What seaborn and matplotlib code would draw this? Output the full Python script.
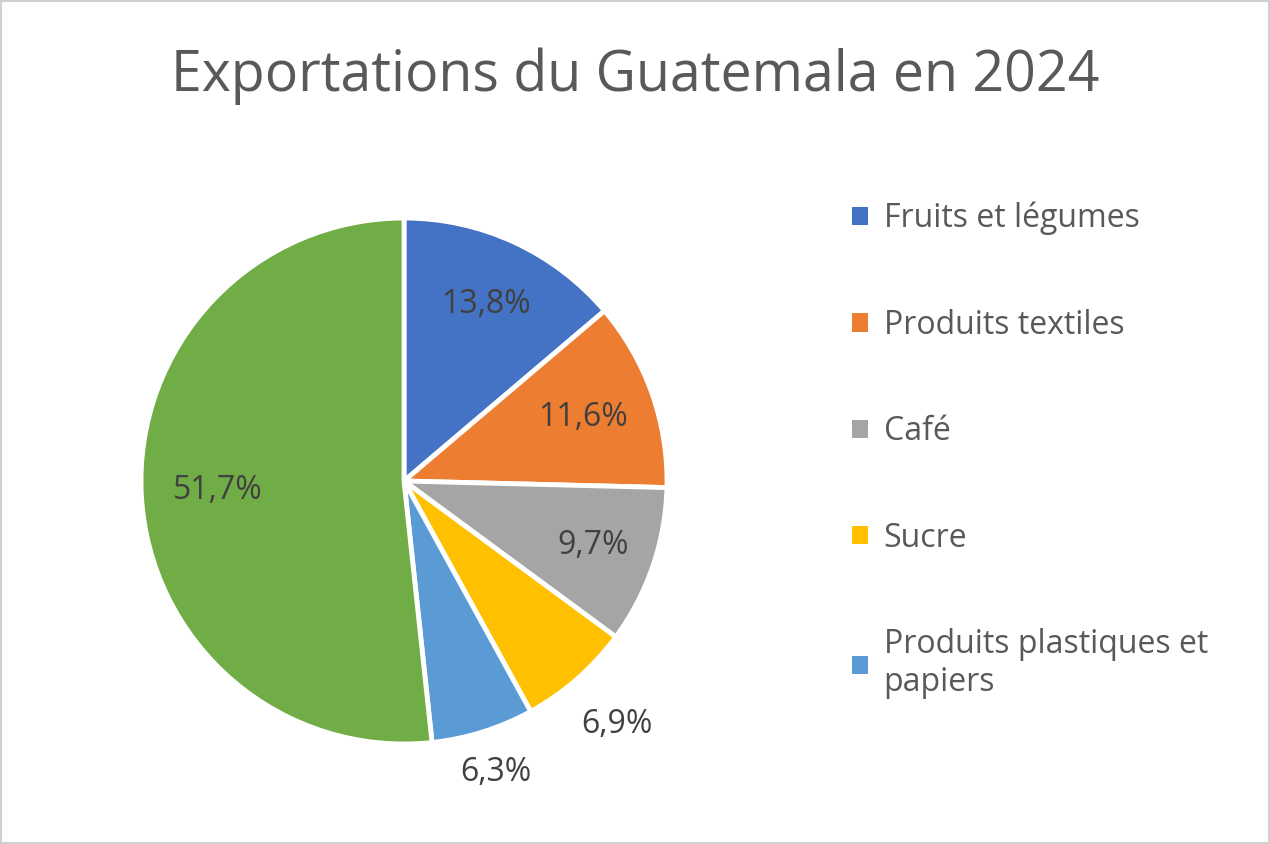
import matplotlib.pyplot as plt
import seaborn as sns
import numpy as np
from matplotlib.patches import Patch, Rectangle

# Data
categories = ["Fruits et légumes", "Produits textiles", "Café", "Sucre",
              "Produits plastiques et\npapiers", "Autres"]
values = [13.8, 11.6, 9.7, 6.9, 6.3, 51.7]
colors = ["#4472C4", "#ED7D31", "#A5A5A5", "#FFC000", "#5B9BD5", "#70AD47"]
label_dist = [0.74, 0.72, 0.76, 1.23, 1.16, 0.71]

sns.set_theme(style="white")
plt.rcParams["font.family"] = "Open Sans"

fig = plt.figure(figsize=(12.7, 8.44), dpi=100)
fig.patches.append(Rectangle((0.001, 0.001), 0.998, 0.998, transform=fig.transFigure,
                             fill=False, edgecolor="#D0D0D0", linewidth=1.5))

ax = fig.add_axes([(404 - 263) / 1270, (844 - 744) / 844, 526 / 1270, 526 / 844])
wedges, _ = ax.pie(values, colors=colors, startangle=90, counterclock=False,
                   radius=1, wedgeprops=dict(edgecolor="white", linewidth=3.5))
ax.set_xlim(-1, 1)
ax.set_ylim(-1, 1)
ax.set_aspect("equal")

for w, v, d in zip(wedges, values, label_dist):
    ang = np.deg2rad((w.theta1 + w.theta2) / 2)
    ax.text(d * np.cos(ang), d * np.sin(ang), f"{v:.1f}%".replace(".", ","),
            ha="center", va="center", fontsize=23, color="#404040")

fig.text(0.5, 0.91, "Exportations du Guatemala en 2024", ha="center", va="center",
         fontsize=40, color="#595959")

handles = [Patch(facecolor=c, edgecolor="none") for c in colors[:5]]
fig.legend(handles, categories[:5], loc="upper left", bbox_to_anchor=(0.648, 0.795),
           frameon=False, fontsize=23, labelcolor="#595959", labelspacing=2.3,
           handlelength=0.5, handleheight=0.5, handletextpad=0.5)

fig.savefig("out.png", dpi=100)
